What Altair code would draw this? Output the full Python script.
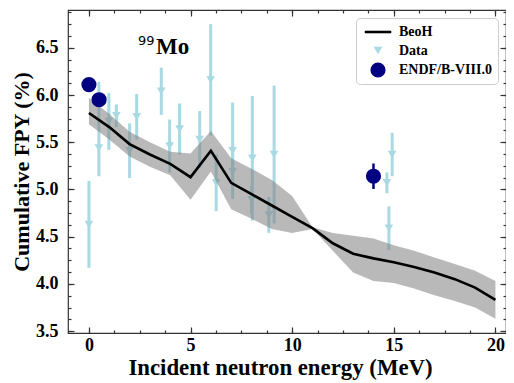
import altair as alt
import pandas as pd

# ---------------- data ----------------
beoh_e = [0, 1, 2, 3, 4, 5, 6, 7, 8, 9, 10, 11, 12, 13, 14, 15, 16, 17, 18, 19, 20]
beoh_y = [5.81, 5.66, 5.48, 5.37, 5.27, 5.13, 5.41, 5.07, 4.95, 4.83, 4.71,
          4.59, 4.43, 4.32, 4.27, 4.23, 4.18, 4.12, 4.05, 3.96, 3.83]
beoh_hi = [5.97, 5.80, 5.61, 5.50, 5.40, 5.38, 5.62, 5.33, 5.22, 5.10, 4.93,
           4.60, 4.54, 4.51, 4.48, 4.41, 4.35, 4.28, 4.21, 4.14, 4.03]
beoh_lo = [5.69, 5.53, 5.35, 5.24, 5.15, 4.89, 5.19, 4.79, 4.69, 4.58, 4.54,
           4.58, 4.35, 4.12, 4.03, 4.01, 3.95, 3.88, 3.82, 3.75, 3.63]

data_e = [0.0, 0.49, 0.49, 0.98, 1.35, 2.0, 2.35, 3.56, 3.97, 4.46, 5.45,
          5.99, 6.26, 7.07, 7.07, 8.04, 8.0, 8.85, 9.11, 14.66, 14.76, 14.92]
data_y = [4.63, 5.44, 5.92, 5.72, 5.78, 5.41, 5.77, 6.04, 5.46, 5.64, 5.53,
          6.16, 5.07, 5.41, 5.19, 5.33, 4.89, 4.73, 5.37, 5.07, 4.59, 5.37]
data_err = [0.46, 0.30, 0.22, 0.30, 0.12, 0.29, 0.24, 0.25, 0.28, 0.27, 0.30,
            0.59, 0.30, 0.51, 0.20, 0.66, 0.15, 0.19, 0.73, 0.11, 0.23, 0.23]

endf_e = [0.0, 0.5, 14.0]
endf_y = [6.11, 5.95, 5.14]
endf_err = [0.06, 0.05, 0.135]

series_names = ["BeoH", "Data", "ENDF/B-VIII.0"]

x_major = [0, 5, 10, 15, 20]
x_minor = [0, 1.25, 2.5, 3.75, 5, 6.25, 7.5, 8.75, 10, 11.25, 12.5, 13.75,
           15, 16.25, 17.5, 18.75, 20]
y_major = [3.5, 4.0, 4.5, 5.0, 5.5, 6.0, 6.5]
y_minor = [3.5, 3.625, 3.75, 3.875, 4.0, 4.125, 4.25, 4.375, 4.5, 4.625, 4.75,
           4.875, 5.0, 5.125, 5.25, 5.375, 5.5, 5.625, 5.75, 5.875, 6.0, 6.125,
           6.25, 6.375, 6.5, 6.625, 6.75, 6.875]

# ---------------- tables ----------------
df_beoh = pd.DataFrame({"E": beoh_e, "y": beoh_y, "hi": beoh_hi, "lo": beoh_lo})
df_data = pd.DataFrame({"E": data_e, "y": data_y,
                        "lo": [v - e for v, e in zip(data_y, data_err)],
                        "hi": [v + e for v, e in zip(data_y, data_err)],
                        "series": "Data"})
df_endf = pd.DataFrame({"E": endf_e, "y": endf_y,
                        "lo": [v - e for v, e in zip(endf_y, endf_err)],
                        "hi": [v + e for v, e in zip(endf_y, endf_err)],
                        "series": "ENDF/B-VIII.0"})

LB = "#a9d9e2"
NAVY = "#000080"
SERIF = "Liberation Serif"
TICK = "#333333"

XS = alt.Scale(domain=[-1.03, 20.52], nice=False, zero=False)
YS = alt.Scale(domain=[3.48, 6.9], nice=False, zero=False)


def ax(orient, values, size, labels=False, title=None):
    kw = dict(orient=orient, values=values, tickSize=size, offset=-size,
              domain=False, grid=False, ticks=True, tickColor=TICK,
              tickWidth=1.2, labels=labels, title=title, zindex=1)
    if labels:
        kw.update(labelFont=SERIF, labelFontWeight="bold", labelFontSize=18,
                  labelColor="black", labelPadding=10)
        if orient in ("bottom", "top"):
            kw.update(labelPadding=3)
    if title:
        kw.update(titleFont=SERIF, titleFontWeight="bold", titleFontSize=22,
                  titleColor="black", titlePadding=2)
        if orient in ("bottom", "top"):
            kw.update(titlePadding=2, titleFontSize=22.8, titleX=212)
    return alt.Axis(**kw)


LINE_PATH = "M-1.75,-0.17L1.75,-0.17L1.75,0.17L-1.75,0.17Z"
color_scale = alt.Scale(domain=series_names, range=["black", LB, NAVY])
shape_scale = alt.Scale(domain=series_names, range=[LINE_PATH, "triangle-down", "circle"])
size_scale = alt.Scale(type="ordinal", domain=series_names, range=[230, 75, 230])

leg = alt.Legend(title=None, orient="none", legendX=288, legendY=8,
                 fillColor="white", strokeColor="#cccccc", cornerRadius=4,
                 padding=6, rowPadding=4.5, symbolOffset=8, labelOffset=13,
                 labelFont=SERIF, labelFontWeight="bold", labelFontSize=14,
                 labelColor="black", symbolStrokeWidth=0)

# ---------------- layers ----------------
data_bars = alt.Chart(df_data).mark_rule(color=LB, strokeWidth=3).encode(
    x=alt.X("E:Q", scale=XS, axis=ax("top", x_major, 6)),
    y=alt.Y("lo:Q", scale=YS, axis=ax("right", y_major, 6)),
    y2="hi:Q",
)

data_pts = alt.Chart(df_data).mark_point(filled=True, opacity=1).encode(
    x=alt.X("E:Q", scale=XS, axis=ax("top", x_minor, 3)),
    y=alt.Y("y:Q", scale=YS, axis=ax("right", y_minor, 3)),
    color=alt.Color("series:N", scale=color_scale, legend=leg),
    shape=alt.Shape("series:N", scale=shape_scale, legend=leg),
    size=alt.Size("series:N", scale=size_scale, legend=leg),
)

band = alt.Chart(df_beoh).mark_area(color="#808080", opacity=0.55).encode(
    x=alt.X("E:Q", scale=XS,
            axis=ax("bottom", x_major, 6, labels=True,
                    title="Incident neutron energy (MeV)")),
    y=alt.Y("lo:Q", scale=YS,
            axis=ax("left", y_major, 6, labels=True, title="Cumulative FPY (%)")),
    y2="hi:Q",
)

line = alt.Chart(df_beoh).mark_line(color="black", strokeWidth=2.6).encode(
    x=alt.X("E:Q", scale=XS, axis=ax("bottom", x_minor, 3)),
    y=alt.Y("y:Q", scale=YS, axis=ax("left", y_minor, 3)),
)

endf_bars = alt.Chart(df_endf).mark_rule(color=NAVY, strokeWidth=2.5).encode(
    x=alt.X("E:Q", scale=XS, axis=None),
    y=alt.Y("lo:Q", scale=YS, axis=None),
    y2="hi:Q",
)

endf_pts = alt.Chart(df_endf).mark_point(filled=True, opacity=1).encode(
    x=alt.X("E:Q", scale=XS, axis=None),
    y=alt.Y("y:Q", scale=YS, axis=None),
    color=alt.Color("series:N", scale=color_scale, legend=leg),
    shape=alt.Shape("series:N", scale=shape_scale, legend=leg),
    size=alt.Size("series:N", scale=size_scale, legend=leg),
)

t99 = alt.Chart(pd.DataFrame({"t": ["99"]})).mark_text(
    font="DejaVu Sans", fontSize=13, align="left", baseline="alphabetic",
    color="black").encode(text="t:N", x=alt.value(70), y=alt.value(35))
tMo = alt.Chart(pd.DataFrame({"t": ["Mo"]})).mark_text(
    font=SERIF, fontWeight="bold", fontSize=23, align="left",
    baseline="alphabetic", color="black").encode(
    text="t:N", x=alt.value(88), y=alt.value(44))

chart = alt.layer(
    data_bars, data_pts, band, line, endf_bars, endf_pts, t99, tMo
).resolve_axis(x="independent", y="independent").properties(
    width=438, height=323,
    autosize=alt.AutoSizeParams(type="none"),
    padding={"left": 60, "top": 2, "right": 0, "bottom": 50},
    background="white",
).configure_view(stroke=TICK, strokeWidth=1.2)

chart.save("out.html", embed_options={"renderer": "svg", "actions": False})
